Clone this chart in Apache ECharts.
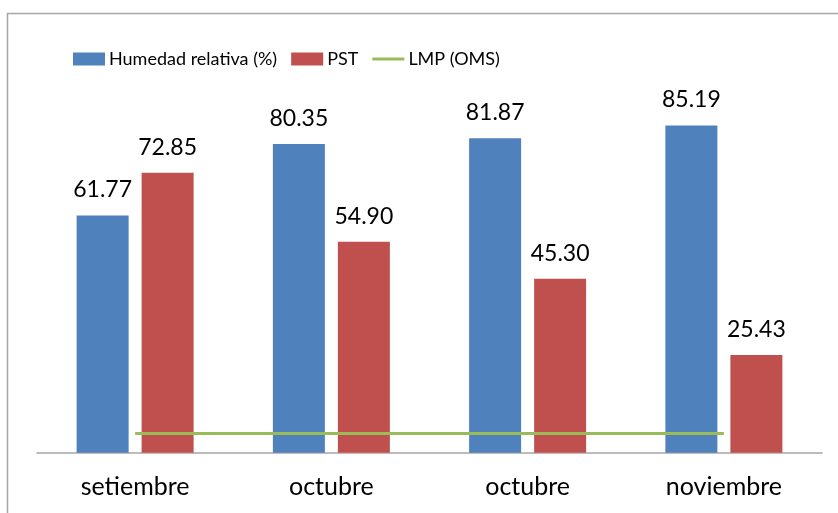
<!DOCTYPE html>
<html>
<head>
<meta charset="utf-8">
<script src="https://cdn.jsdelivr.net/npm/echarts@6/dist/echarts.min.js"></script>
<style>
  html, body { margin: 0; padding: 0; background: #fff; }
  #mychart { width: 838px; height: 513px; }
</style>
</head>
<body>
<div id="mychart"></div>
<script>
var categories = ["setiembre", "octubre", "octubre", "noviembre"];
var humedad = [61.77, 80.35, 81.87, 85.19];
var pst = [72.85, 54.90, 45.30, 25.43];
var lmp = [5, 5, 5, 5];

var fontName = "Lato";

var myChart = echarts.init(document.getElementById("mychart"));

var option = {
  animation: false,
  textStyle: { fontFamily: fontName },
  graphic: [{
    type: "rect",
    shape: { x: 7.5, y: 13.5, width: 900, height: 600 },
    style: { fill: "none", stroke: "#a6a6a6", lineWidth: 1.5 },
    silent: true
  }],
  legend: {
    left: 68,
    top: 45,
    itemWidth: 32,
    itemHeight: 13,
    itemGap: 14,
    textStyle: { fontFamily: fontName, fontSize: 18, color: "#000", padding: [0, 0, 0, -1] },
    data: [
      { name: "Humedad relativa (%)", icon: "rect" },
      { name: "PST", icon: "rect" },
      { name: "LMP (OMS)", icon: "path://M0,0 L32,0 L32,3 L0,3 Z" }
    ]
  },
  grid: {
    left: 37,
    right: 16,
    top: 68.5,
    bottom: 60.3
  },
  xAxis: {
    type: "category",
    data: categories,
    axisTick: { show: false },
    axisLine: { lineStyle: { color: "#a6a6a6", width: 1.5 } },
    axisLabel: { color: "#000", fontSize: 25, fontFamily: fontName, margin: 22 }
  },
  yAxis: {
    type: "value",
    min: 0,
    max: 100,
    show: false,
    splitLine: { show: false }
  },
  series: [
    {
      name: "Humedad relativa (%)",
      type: "bar",
      data: humedad,
      barWidth: 52,
      barGap: "25%",
      itemStyle: { color: "#4F81BD" },
      label: {
        show: true,
        position: "top",
        distance: 14,
        fontSize: 23,
        fontFamily: fontName,
        color: "#000",
        formatter: function (p) { return p.value.toFixed(2); }
      }
    },
    {
      name: "PST",
      type: "bar",
      data: pst,
      barWidth: 52,
      barGap: "25%",
      itemStyle: { color: "#C0504D" },
      label: {
        show: true,
        position: "top",
        distance: 14,
        fontSize: 23,
        fontFamily: fontName,
        color: "#000",
        formatter: function (p) { return p.value.toFixed(2); }
      }
    },
    {
      name: "LMP (OMS)",
      type: "line",
      data: lmp,
      symbol: "none",
      lineStyle: { color: "#9BBB59", width: 3 },
      itemStyle: { color: "#9BBB59" },
      z: 5
    }
  ]
};

myChart.setOption(option);
window.addEventListener("resize", function () {
  myChart.resize();
});
</script>
</body>
</html>
